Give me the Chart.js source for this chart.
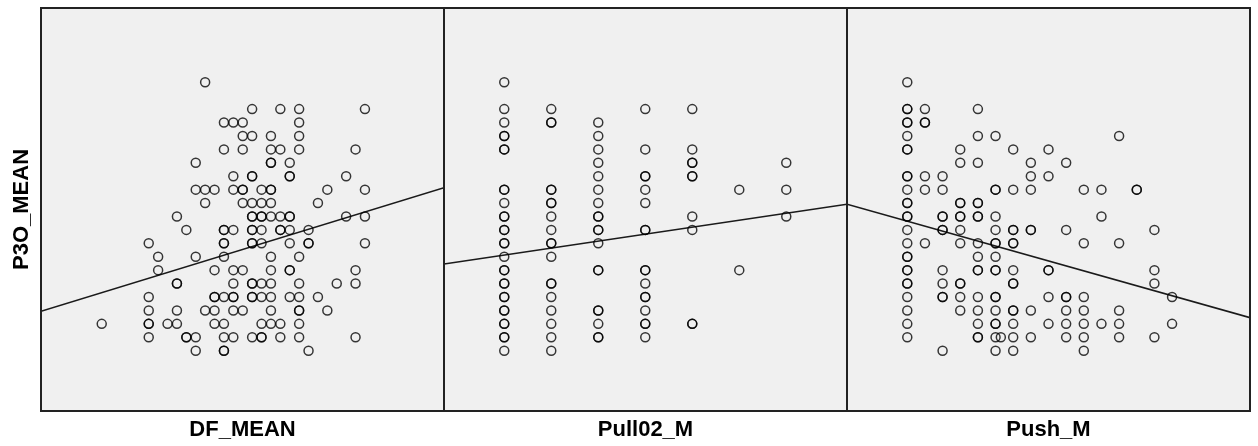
<!DOCTYPE html>
<html lang="en">
<head>
  <meta charset="UTF-8" />
  <title>P3O_MEAN scatter</title>
  <script src="https://cdn.jsdelivr.net/npm/chart.js"></script>
  <style>
    body {
      margin: 0;
      background: #fff;
    }
    #wrap {
      position: relative;
      width: 1258px;
      height: 446px;
    }
    canvas {
      position: absolute;
      top: 0;
    }
  </style>
</head>
<body>
  <div id="wrap">
    <canvas id="dfChart" width="446" height="446" style="left:0"></canvas>
    <canvas id="pullChart" width="407" height="446" style="left:442px"></canvas>
    <canvas id="pushChart" width="407" height="446" style="left:845px"></canvas>
  </div>

  <script>
    // P3O_MEAN rows, with the DF_MEAN values found on each row
    // (a value listed twice = two cases on the same spot, drawn darker)
    const p3oRows = [5.0, 4.6, 4.4, 4.2, 4.0, 3.8, 3.6, 3.4, 3.2, 3.0, 2.8, 2.6, 2.4, 2.2, 2.0, 1.8, 1.6, 1.4, 1.2, 1.0];
    const dfByP3o = [
      [2.3],
      [2.8, 3.1, 3.3, 4.0],
      [2.5, 2.6, 2.7, 3.3],
      [2.7, 2.8, 3.0, 3.3],
      [2.5, 2.7, 3.0, 3.1, 3.3, 3.9],
      [2.2, 3.0, 3.0, 3.2],
      [2.6, 2.8, 2.8, 3.2, 3.2, 3.8],
      [2.2, 2.3, 2.4, 2.6, 2.7, 2.7, 2.9, 3.0, 3.0, 3.6, 4.0],
      [2.3, 2.7, 2.8, 2.9, 3.0, 3.5],
      [2.0, 2.8, 2.8, 2.9, 2.9, 3.0, 3.1, 3.2, 3.2, 3.8, 4.0],
      [2.1, 2.5, 2.5, 2.6, 2.8, 2.8, 2.9, 3.1, 3.1, 3.2, 3.4],
      [1.7, 2.5, 2.5, 2.8, 2.8, 2.9, 3.2, 3.4, 3.4, 4.0],
      [1.8, 2.2, 2.5, 3.0, 3.3],
      [1.8, 2.4, 2.6, 2.7, 3.0, 3.2, 3.2, 3.9],
      [2.0, 2.0, 2.6, 2.8, 2.8, 2.9, 3.0, 3.3, 3.7, 3.9],
      [1.7, 2.4, 2.4, 2.5, 2.6, 2.6, 2.8, 2.8, 2.9, 3.0, 3.2, 3.3, 3.5],
      [1.7, 2.0, 2.3, 2.4, 2.6, 2.7, 3.0, 3.3, 3.3, 3.6],
      [1.2, 1.7, 1.7, 1.9, 2.0, 2.4, 2.5, 2.9, 3.0, 3.1, 3.3],
      [1.7, 2.1, 2.1, 2.2, 2.5, 2.6, 2.8, 2.9, 2.9, 3.1, 3.3, 3.9],
      [2.2, 2.5, 2.5, 3.4]
    ];

    // Pull02_M columns, with the P3O_MEAN values in each column
    const pullLevels = [1.0, 1.5, 2.0, 2.5, 3.0, 3.5, 4.0];
    const p3oByPull = [
      [5.0, 4.6, 4.4, 4.2, 4.2, 4.0, 4.0, 3.4, 3.4, 3.2, 3.0, 3.0, 2.8, 2.8, 2.6, 2.6, 2.4, 2.2, 2.2,
       2.0, 2.0, 1.8, 1.8, 1.6, 1.6, 1.4, 1.4, 1.2, 1.2, 1.0],
      [4.6, 4.4, 4.4, 3.4, 3.4, 3.2, 3.2, 3.0, 2.8, 2.6, 2.6, 2.4, 2.0, 2.0, 1.8, 1.6, 1.4, 1.2, 1.0],
      [4.4, 4.2, 4.0, 3.8, 3.6, 3.4, 3.2, 3.0, 3.0, 2.8, 2.8, 2.6, 2.2, 2.2, 1.6, 1.6, 1.4, 1.2, 1.2],
      [4.6, 4.0, 3.6, 3.6, 3.4, 3.2, 2.8, 2.8, 2.2, 2.2, 2.0, 1.8, 1.8, 1.6, 1.4, 1.4, 1.2],
      [4.6, 4.0, 3.8, 3.8, 3.6, 3.6, 3.0, 2.8, 1.4, 1.4],
      [3.4, 2.2],
      [3.8, 3.4, 3.0]
    ];

    // Push_M columns, with the P3O_MEAN values in each column
    const pushLevels = [1.0, 1.2, 1.4, 1.6, 1.8, 2.0, 2.06, 2.2, 2.4, 2.6, 2.8, 3.0, 3.2, 3.4, 3.6, 3.8, 4.0];
    const p3oByPush = [
      [5.0, 4.6, 4.6, 4.4, 4.4, 4.2, 4.0, 4.0, 3.6, 3.6, 3.4, 3.2, 3.2, 3.0, 3.0, 2.8, 2.6, 2.4, 2.4,
       2.2, 2.2, 2.0, 2.0, 1.8, 1.6, 1.4, 1.2],
      [4.6, 4.4, 4.4, 3.6, 3.4, 2.6],
      [3.6, 3.4, 3.0, 3.0, 2.8, 2.8, 2.2, 2.0, 1.8, 1.8, 1.0],
      [4.0, 3.8, 3.2, 3.2, 3.0, 3.0, 2.8, 2.6, 2.0, 2.0, 1.8, 1.6],
      [4.6, 4.2, 3.8, 3.2, 3.2, 3.0, 3.0, 2.6, 2.4, 2.2, 2.2, 1.8, 1.6, 1.4, 1.2, 1.2],
      [4.2, 3.4, 3.4, 3.0, 2.8, 2.6, 2.6, 2.4, 2.2, 2.2, 1.8, 1.8, 1.6, 1.4, 1.4, 1.2, 1.0],
      [1.2],
      [4.0, 3.4, 2.8, 2.8, 2.6, 2.6, 2.2, 2.0, 2.0, 1.6, 1.6, 1.4, 1.2, 1.0],
      [3.8, 3.6, 3.4, 2.8, 2.8, 1.6, 1.2],
      [4.0, 3.6, 2.2, 2.2, 1.8, 1.4],
      [3.8, 2.8, 1.8, 1.8, 1.6, 1.4, 1.2],
      [3.4, 2.6, 1.8, 1.6, 1.4, 1.2, 1.0],
      [3.4, 3.0, 1.4],
      [4.2, 2.6, 1.6, 1.4, 1.2],
      [3.4, 3.4],
      [2.8, 2.2, 2.0, 1.2],
      [1.8, 1.4]
    ];

    // axis ranges and fit lines (P3O_MEAN at the left and right edge of each panel)
    const yRange = [0.101, 6.107];
    const dfRange = [0.554, 4.841];
    const pullRange = [0.359, 4.646];
    const pushRange = [0.317, 4.883];
    const dfFit = [1.587, 3.429];
    const pullFit = [2.292, 3.182];
    const pushFit = [3.182, 1.492];

    const FONT = { family: "'Liberation Sans', Arial, sans-serif", size: 22, weight: 'bold' };

    const frame = {
      id: 'frame',
      beforeDraw(chart) {
        const { ctx, chartArea: a } = chart;
        ctx.save();
        ctx.fillStyle = '#f0f0f0';
        ctx.fillRect(a.left, a.top, a.right - a.left, a.bottom - a.top);
        ctx.restore();
      },
      afterDraw(chart) {
        const { ctx, chartArea: a } = chart;
        ctx.save();
        ctx.strokeStyle = '#222';
        ctx.lineWidth = 2;
        ctx.strokeRect(a.left, a.top, a.right - a.left, a.bottom - a.top);
        ctx.restore();
      }
    };

    function pairsFromRows(rows, lists) {
      const pts = [];
      rows.forEach((y, i) => lists[i].forEach(x => pts.push({ x, y })));
      return pts;
    }

    function pairsFromCols(cols, lists) {
      const pts = [];
      cols.forEach((x, i) => lists[i].forEach(y => pts.push({ x, y })));
      return pts;
    }

    function makePanel(id, points, range, fit, title, first) {
      new Chart(document.getElementById(id), {
        type: 'scatter',
        data: {
          datasets: [
            {
              data: points,
              pointStyle: 'circle',
              pointRadius: 4.5,
              pointBorderWidth: 1.5,
              pointBackgroundColor: 'transparent',
              pointBorderColor: 'rgba(0,0,0,0.78)'
            },
            {
              data: [{ x: range[0], y: fit[0] }, { x: range[1], y: fit[1] }],
              showLine: true,
              borderColor: '#1a1a1a',
              borderWidth: 1.6,
              pointRadius: 0
            }
          ]
        },
        options: {
          responsive: false,
          animation: false,
          events: [],
          layout: { autoPadding: false, padding: { left: first ? 0 : 2, right: 2, top: 8, bottom: 0 } },
          plugins: { legend: { display: false }, tooltip: { enabled: false } },
          scales: {
            x: {
              type: 'linear',
              min: range[0],
              max: range[1],
              grid: { display: false },
              border: { display: false },
              ticks: { display: false },
              title: { display: true, text: title, color: '#000', font: FONT, padding: { top: 0, bottom: 3 } },
              afterFit(s) { s.height = 35; }
            },
            y: {
              type: 'linear',
              display: first,
              min: yRange[0],
              max: yRange[1],
              grid: { display: false },
              border: { display: false },
              ticks: { display: false },
              title: { display: first, text: 'P3O_MEAN', color: '#000', font: FONT, padding: { top: 9, bottom: 0 } },
              afterFit(s) { s.width = first ? 41 : 0; }
            }
          }
        },
        plugins: [frame]
      });
    }

    makePanel('dfChart', pairsFromRows(p3oRows, dfByP3o), dfRange, dfFit, 'DF_MEAN', true);
    makePanel('pullChart', pairsFromCols(pullLevels, p3oByPull), pullRange, pullFit, 'Pull02_M', false);
    makePanel('pushChart', pairsFromCols(pushLevels, p3oByPush), pushRange, pushFit, 'Push_M', false);
  </script>
</body>
</html>
